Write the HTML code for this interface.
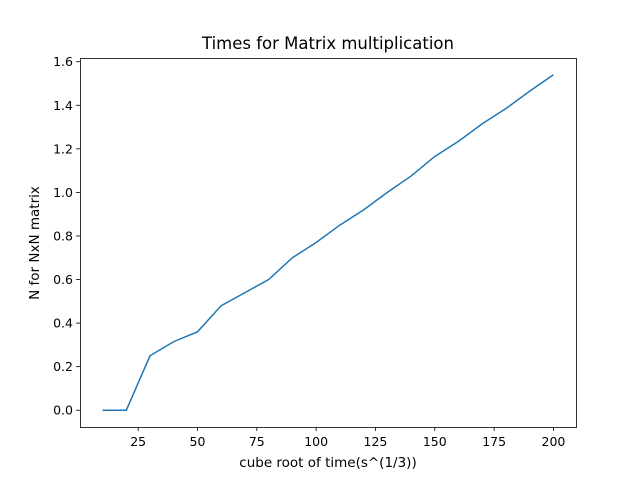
<!DOCTYPE html>
<html><head><meta charset="utf-8"><style>
body{margin:0;background:#fff;font-family:"Liberation Sans","DejaVu Sans",sans-serif;}
svg text{font-family:"DejaVu Sans","Liberation Sans",sans-serif;fill:#000;}
</style></head><body>
<svg id="chart" width="640" height="480">
<rect width="640" height="480" fill="#fff"/>
<text x="328" y="49" font-size="16.5" text-anchor="middle">Times for Matrix multiplication</text>
<g id="ticks"></g>
<path id="line" fill="none" stroke="#1f77b4" stroke-width="1.5"/>
<rect x="80.5" y="58.5" width="496" height="369" fill="none" stroke="#000" stroke-width="0.8"/>
<text x="328" y="467" font-size="13.5" text-anchor="middle">cube root of time(s^(1/3))</text>
<text x="0" y="0" font-size="13.5" text-anchor="middle" transform="translate(39,243) rotate(-90)">N for NxN matrix</text>
</svg>
<script>
const xValues=[10,20,30,40,50,60,70,80,90,100,110,120,130,140,150,160,170,180,190,200];
const yValues=[0,0,0.25,0.315,0.36,0.48,0.54,0.60,0.70,0.77,0.85,0.92,1.0,1.075,1.165,1.235,1.315,1.385,1.465,1.54];
const xTicks=[25,50,75,100,125,150,175,200];
const yTicks=[0,0.2,0.4,0.6,0.8,1.0,1.2,1.4,1.6];
const L=80,R=576,T=58,B=427;
const xmin=0.5,xmax=209.5,ymin=-0.077,ymax=1.617;
const sx=v=>L+(v-xmin)/(xmax-xmin)*(R-L);
const sy=v=>B-(v-ymin)/(ymax-ymin)*(B-T);
const NS="http://www.w3.org/2000/svg";
const g=document.getElementById('ticks');
function mk(tag,attrs){const e=document.createElementNS(NS,tag);for(const k in attrs)e.setAttribute(k,attrs[k]);return e;}
xTicks.forEach(t=>{
 const x=sx(t);
 const l=mk('line',{x1:x,x2:x,y1:B,y2:B+4,stroke:'#000','stroke-width':0.8});
 
 
 g.appendChild(l);
 const tx=mk('text',{x:x,y:B+19,'font-size':12.5,'text-anchor':'middle'});
 tx.textContent=t;
 
 
 g.appendChild(tx);
});
yTicks.forEach(t=>{
 const y=sy(t);
 const l=mk('line',{x1:L-4,x2:L,y1:y,y2:y,stroke:'#000','stroke-width':0.8});
 
 
 g.appendChild(l);
 const tx=mk('text',{x:L-7,y:y+4.5,'font-size':12.5,'text-anchor':'end'});
 tx.textContent=t.toFixed(1);
 
 
 g.appendChild(tx);
});
document.getElementById('line').setAttribute('d',xValues.map((x,i)=>(i?'L':'M')+sx(x).toFixed(2)+' '+sy(yValues[i]).toFixed(2)).join(' '));
</script>
</body></html>
